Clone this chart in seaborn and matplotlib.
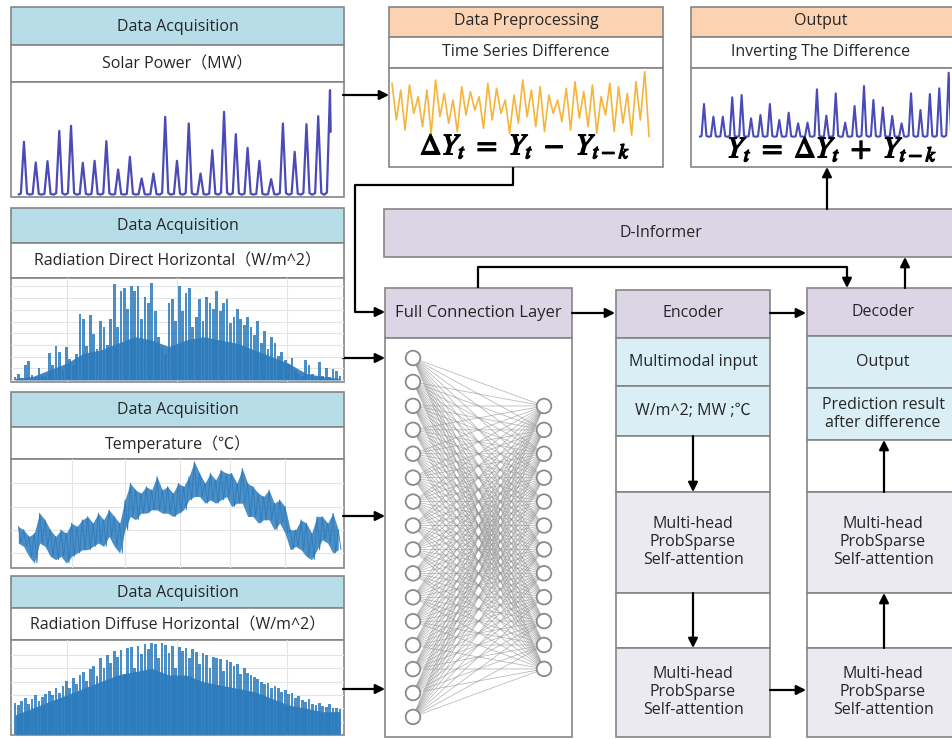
import numpy as np
import pandas as pd
import matplotlib
matplotlib.use("Agg")
import matplotlib.pyplot as plt
import seaborn as sns
from matplotlib.patches import Rectangle, Circle
import matplotlib.patheffects as pe

# ---------------- data ----------------
solar_peaks = [15.8, 9.6, 10.0, 19.1, 20.6, 9.5, 10.1, 16.0, 7.5, 11.3, 4.8, 6.3, 23.3, 10.1,
               21.3, 6.3, 13.3, 24.8, 18.1, 14.0, 10.1, 4.6, 21.3, 12.8, 21.1, 23.5, 31.3]
solar_end = 18.8

output_peaks = [9.8, 6.0, 6.0, 11.8, 12.5, 5.5, 6.5, 9.8, 5.0, 7.2, 4.0, 4.2, 14.2, 6.3,
                13.0, 4.2, 9.2, 15.2, 11.0, 8.8, 6.2, 4.0, 13.0, 8.0, 12.8, 14.5, 19.2]

diff_high = [7, 5, 6.5, 3, 5, 8, 4, 2, 6, 4.5, 3, 7, 5.5, 2, 3.5, 8, 5, 6, 3.5, 2,
             5.5, 7.5, 4.5, 6.5, 3, 7, 6, 4, 7.5, 10.5]
diff_low = [-4, -7, -2, -6, -8, -3, -5, -7.5, -2.5, -1, -6.5, -4, -2, -8, -5, -3, -6, -7.5, -2,
            -4.5, -7, -3.5, -6, -8, -2.5, -7.5, -5, -8.5, -4, -9]

direct_spikes = [30, 60, 20, 150, 190, 50, 20, 120, 40, 30,
                 270, 150, 330, 280, 100, 320, 210, 150, 260, 650,
                 600, 330, 640, 450, 300, 580, 520, 340, 600, 940,
                 520, 880, 900, 700, 920, 880, 920, 600, 820, 760,
                 950, 680, 420, 300, 260, 760, 800, 580, 920, 680,
                 860, 900, 520, 620, 800, 580, 820, 760, 700, 880,
                 680, 760, 800, 560, 620, 700, 600, 540, 620, 520,
                 440, 580, 360, 480, 300, 420, 360, 240, 280, 200,
                 160, 220, 100, 60, 40, 200, 150, 60, 30, 180,
                 40, 120, 30, 110, 90, 40]
direct_base = [16, 33, 98, 164, 262, 295, 361, 426, 393, 328,
               393, 426, 393, 361, 295, 230, 164, 66, 33, 16]

temp_high = [12.5, 11.5, 9.5, 10.5, 16.5, 14.5, 11.5, 9.5, 11.5, 10.5, 13.5, 12.5, 14.5, 15.5,
             13.5, 16.5, 14.5, 17.5, 15.5, 13.5, 20.5, 25.5, 23.5, 22.5, 24.5, 23.5, 27.5, 23.5,
             24.5, 22.5, 25.5, 24.5, 27.5, 32.0, 28.5, 25.5, 28.5, 26.5, 29.5, 28.5, 28.5, 25.5,
             30.0, 25.5, 24.5, 22.5, 21.5, 23.5, 19.5, 20.5, 18.5, 11.5, 11.5, 14.5, 13.5, 10.5,
             15.5, 15.5, 13.5, 16.5, 11.5]
temp_low = [7.5, 6.5, 3.5, 1.5, 7.5, 6.5, 3.5, 2.5, 3.5, 1.5, 3.5, 4.5, 5.5, 5.5, 6.5, 7.5,
            6.5, 9.5, 6.5, 4.5, 11.5, 15.5, 14.5, 16.5, 16.5, 17.5, 17.5, 16.5, 16.5, 15.5,
            16.5, 17.5, 20.5, 21.5, 21.5, 19.5, 20.5, 19.5, 20.5, 21.5, 18.5, 19.5, 19.5, 15.5,
            15.5, 13.5, 14.5, 14.5, 11.5, 13.5, 10.5, 5.5, 6.5, 5.5, 3.5, 2.5, 5.5, 8.5, 7.5,
            4.5, 5.5]

diffuse_spikes = [95, 88, 100, 110, 92, 105, 118, 100, 112, 120,
                  130, 118, 138, 125, 145, 160, 140, 168, 150, 178,
                  188, 160, 195, 205, 175, 228, 200, 238, 215, 250,
                  232, 253, 180, 258, 262, 200, 265, 240, 270, 255,
                  275, 272, 230, 273, 268, 245, 265, 200, 262, 250,
                  258, 230, 255, 248, 210, 245, 238, 200, 232, 228,
                  225, 190, 222, 218, 205, 212, 180, 200, 185, 178,
                  172, 165, 158, 150, 155, 140, 145, 138, 128, 132,
                  120, 125, 110, 115, 103, 98, 105, 92, 88, 95,
                  85, 82, 90, 78, 80, 75]
diffuse_base = [58, 78, 98, 118, 138, 158, 178, 188, 198, 178,
                178, 158, 148, 138, 128, 108, 88, 78, 68, 68]

panel_titles = ["Solar Power（MW）", "Radiation Direct Horizontal（W/m^2）",
                "Temperature（℃）", "Radiation Diffuse Horizontal（W/m^2）"]

# ---------------- style ----------------
sns.set_theme(style="white")
plt.rcParams['font.family'] = ['Open Sans', 'Noto Sans CJK SC', 'DejaVu Sans']
plt.rcParams['mathtext.fontset'] = 'stix'

EDGE = "#858585"
TXT = "#262626"
BLUE_HDR = "#b7dde8"
ORANGE_HDR = "#fbd3b3"
LAV = "#dcd5e6"
LBLUE = "#d9eef5"
GRAYBOX = "#ebe9f1"
SOLAR_C = "#4a4ab8"
DIFF_C = "#f6b43a"
RAD_C = "#2c7bbd"
FS = 11.5

W, H = 952, 739
fig = plt.figure(figsize=(W / 100, H / 100), dpi=100)
bg = fig.add_axes([0, 0, 1, 1])
bg.set_xlim(0, W)
bg.set_ylim(H, 0)
bg.axis('off')


def box(x0, y0, x1, y1, fc, z=1, lw=1.2):
    bg.add_patch(Rectangle((x0, y0), x1 - x0, y1 - y0, fc=fc, ec=EDGE, lw=lw, zorder=z))


def label(x, y, s, size=FS):
    bg.text(x, y, s, ha='center', va='center', fontsize=size, color=TXT, zorder=6,
            linespacing=1.16)


def arrow(pts, lw=1.6):
    if len(pts) > 2:
        xs, ys = zip(*pts[:-1])
        bg.plot(xs, ys, color='black', lw=lw, zorder=4, solid_capstyle='butt')
    bg.annotate('', xy=pts[-1], xytext=pts[-2],
                arrowprops=dict(arrowstyle='-|>', color='black', lw=lw,
                                mutation_scale=14, shrinkA=0, shrinkB=0), zorder=4)


def chart_ax(x0, y0, x1, y1):
    ax = fig.add_axes([x0 / W, 1 - y1 / H, (x1 - x0) / W, (y1 - y0) / H])
    ax.set_facecolor('none')
    for s in ax.spines.values():
        s.set_visible(False)
    return ax


def finish(ax, xlim, ylim, gx=(), gy=()):
    ax.set_xlim(*xlim)
    ax.set_ylim(*ylim)
    ax.set_xticks(list(gx))
    ax.set_yticks(list(gy))
    ax.tick_params(length=0, labelbottom=False, labelleft=False)
    ax.set_xlabel('')
    ax.set_ylabel('')
    if len(gx) or len(gy):
        ax.grid(True, color='#e4e4e4', lw=0.8)
        ax.set_axisbelow(True)
    else:
        ax.grid(False)


PROF_DX = [-0.45, -0.26, -0.12, 0.0, 0.12, 0.26, 0.45]
PROF_W = [0.0, 0.02, 0.55, 1.0, 0.55, 0.02, 0.0]


def daily_curve(peaks):
    xs, ys = [], []
    for i, p in enumerate(peaks):
        for d, f in zip(PROF_DX, PROF_W):
            xs.append(i + d)
            ys.append(p * f)
    return pd.DataFrame({'x': xs, 'y': ys})


# ---------------- left data-acquisition panels ----------------
LX0, LX1 = 11, 344
panels = [(7, 45, 82, 197), (208, 243, 278, 382), (392, 427, 459, 568), (576, 608, 640, 735)]
for (y0, y1, y2, y3), title in zip(panels, panel_titles):
    box(LX0, y0, LX1, y1, BLUE_HDR)
    box(LX0, y1, LX1, y2, 'white')
    box(LX0, y2, LX1, y3, 'white')
    label((LX0 + LX1) / 2, (y0 + y1) / 2 + 1, "Data Acquisition")
    label((LX0 + LX1) / 2, (y1 + y2) / 2 + 1, title)

# preprocessing & output boxes
for x0, x1, hdr, sub in [(389, 663, "Data Preprocessing", "Time Series Difference"),
                         (691, 956, "Output", "Inverting The Difference")]:
    box(x0, 7, x1, 37, ORANGE_HDR)
    box(x0, 37, x1, 68, 'white')
    box(x0, 68, x1, 167, 'white')
    cx = (x0 + min(x1, 950)) / 2
    label(cx, 21, hdr)
    label(cx, 52, sub)

# D-Informer
box(384, 209, 958, 257, LAV)
label(661, 233, "D-Informer")

# Full connection layer
box(385, 288, 572, 338, LAV)
box(385, 338, 572, 737, 'white')
label(478.5, 313, "Full Connection Layer", size=12.0)

# Encoder column
EX0, EX1 = 616, 770
box(EX0, 290, EX1, 338, LAV)
box(EX0, 338, EX1, 386, LBLUE)
box(EX0, 386, EX1, 436, LBLUE)
box(EX0, 436, EX1, 492, 'white')
box(EX0, 492, EX1, 593, GRAYBOX)
box(EX0, 593, EX1, 648, 'white')
box(EX0, 648, EX1, 737, GRAYBOX)
ecx = (EX0 + EX1) / 2
label(ecx, 313, "Encoder")
label(ecx, 362, "Multimodal input")
label(ecx, 411, "W/m^2; MW ;℃")
label(ecx, 542, "Multi-head\nProbSparse\nSelf-attention")
label(ecx, 692, "Multi-head\nProbSparse\nSelf-attention")

# Decoder column
DX0, DX1 = 807, 958
box(DX0, 288, DX1, 336, LAV)
box(DX0, 336, DX1, 388, LBLUE)
box(DX0, 388, DX1, 440, LBLUE)
box(DX0, 440, DX1, 492, 'white')
box(DX0, 492, DX1, 593, GRAYBOX)
box(DX0, 593, DX1, 648, 'white')
box(DX0, 648, DX1, 737, GRAYBOX)
dcx = 883
label(dcx, 312, "Decoder")
label(dcx, 362, "Output")
label(dcx, 414, "Prediction result\nafter difference")
label(dcx, 542, "Multi-head\nProbSparse\nSelf-attention")
label(dcx, 692, "Multi-head\nProbSparse\nSelf-attention")

# neural network in the full connection layer
left_nodes = 16
right_nodes = 12
ly = [358 + i * 23.93 for i in range(left_nodes)]
ry = [406 + i * 23.9 for i in range(right_nodes)]
for a in ly:
    for b in ry:
        bg.plot([413, 544], [a, b], color='#8f8f8f', lw=0.6, alpha=0.6, zorder=2)
for a in ly:
    bg.add_patch(Circle((413, a), 7.3, fc='white', ec='#8a8a8a', lw=1.3, zorder=3))
for b in ry:
    bg.add_patch(Circle((544, b), 7.3, fc='white', ec='#8a8a8a', lw=1.3, zorder=3))

# arrows / connectors
arrow([(343, 95), (389, 95)])
arrow([(513, 167), (513, 185), (355, 185), (355, 312), (385, 312)])
arrow([(343, 358), (385, 358)])
arrow([(343, 516), (385, 516)])
arrow([(343, 689), (385, 689)])
arrow([(572, 313), (615, 313)])
arrow([(770, 313), (806, 313)])
arrow([(478, 288), (478, 267), (847, 267), (847, 288)])
arrow([(905, 288), (905, 257)])
arrow([(827, 209), (827, 167)])
arrow([(693, 436), (693, 492)])
arrow([(693, 593), (693, 648)])
arrow([(884, 648), (884, 593)])
arrow([(884, 492), (884, 440)])
arrow([(770, 690), (806, 690)])

# ---------------- small charts ----------------
# Solar power
ax = chart_ax(11, 82, 344, 197)
df = daily_curve(solar_peaks)
df = pd.concat([df.iloc[:-3], pd.DataFrame({'x': [len(solar_peaks) - 1 + 0.06], 'y': [solar_end]})])
sns.lineplot(data=df, x='x', y='y', ax=ax, color=SOLAR_C, lw=1.6, estimator=None, sort=False)
finish(ax, (-1.1, 27.19), (-0.75, 33.75))

# Output (inverted difference)
ax = chart_ax(691, 68, 950, 167)
df = daily_curve(output_peaks)
sns.lineplot(data=df, x='x', y='y', ax=ax, color=SOLAR_C, lw=1.5, estimator=None, sort=False)
finish(ax, (-1.38, 26.14), (-9.1, 20.6))

# Difference series
ax = chart_ax(389, 68, 663, 167)
dvals = [v for pair in zip(diff_high, diff_low) for v in pair]
df = pd.DataFrame({'x': np.arange(len(dvals)), 'y': dvals})
sns.lineplot(data=df, x='x', y='y', ax=ax, color=DIFF_C, lw=1.2, estimator=None)
finish(ax, (-0.69, 62.2), (-18.1, 11.6))

# Radiation direct horizontal
ax = chart_ax(11, 278, 344, 382)
xi = np.arange(len(direct_spikes))
bx = np.linspace(0, len(direct_spikes) - 1, len(direct_base))
ax.fill_between(bx, 0, direct_base, color=RAD_C, lw=0, alpha=0.9, zorder=2)
sns.barplot(x=xi, y=direct_spikes, native_scale=True, color=RAD_C, saturation=1,
            width=0.8, errorbar=None, linewidth=0, ax=ax, zorder=3, alpha=0.85)
finish(ax, (-1.17, 96.2), (-20, 1003), gx=[15.1, 47.3, 79.4], gy=np.arange(0, 1000, 115))

# Temperature
ax = chart_ax(11, 459, 344, 568)
tx = np.arange(len(temp_high))
ax.fill_between(tx, temp_low, temp_high, color=RAD_C, lw=0, alpha=0.85, zorder=2)
zz_x = [v for i in tx for v in (i, i + 0.5)]
zz_y = [v for pair in zip(temp_high, temp_low) for v in pair]
sns.lineplot(x=zz_x, y=zz_y, ax=ax, color=RAD_C, lw=0.6, estimator=None, zorder=3)
finish(ax, (-1.37, 61.07), (0, 32.8), gx=[10, 20, 30.3, 39.7, 50], gy=[4.5, 11.5, 18.5, 25.5])

# Radiation diffuse horizontal
ax = chart_ax(11, 640, 344, 735)
xi = np.arange(len(diffuse_spikes))
bx = np.linspace(0, len(diffuse_spikes) - 1, len(diffuse_base))
ax.fill_between(bx, 0, diffuse_base, color=RAD_C, lw=0, alpha=0.95, zorder=2)
sns.barplot(x=xi, y=diffuse_spikes, native_scale=True, color=RAD_C, saturation=1,
            width=0.8, errorbar=None, linewidth=0, ax=ax, zorder=3, alpha=0.85)
finish(ax, (-1.17, 96.2), (-2, 283), gx=[15.1, 47.3, 79.4], gy=[38, 78, 118, 158, 198, 238])

# formulas (on top of the charts)
stroke = [pe.withStroke(linewidth=1.0, foreground='black')]
fig.text(525 / W, 1 - 147 / H, r'$\Delta Y_t\ =\ Y_t\ -\ Y_{t-k}$', ha='center', va='center',
         fontsize=21.5, color='black', path_effects=stroke)
fig.text(832 / W, 1 - 150 / H, r'$Y_t\ =\ \Delta Y_t\ +\ Y_{t-k}$', ha='center', va='center',
         fontsize=21.5, color='black', path_effects=stroke)

fig.savefig("out.png", dpi=100)
